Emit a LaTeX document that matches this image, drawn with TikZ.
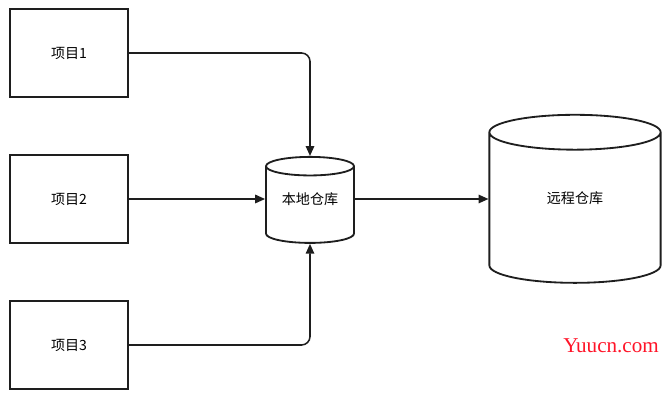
\documentclass[tikz,border=0pt]{standalone}
\usepackage{fontspec}
\setmainfont{Noto Sans CJK SC}
\newfontfamily\markfont{Liberation Serif}
\usetikzlibrary{positioning,arrows.meta,shapes.geometric}
\definecolor{inkgray}{RGB}{30,30,30}
\definecolor{markred}{RGB}{255,20,40}
\tikzset{
  proj/.style={draw=inkgray,line width=1.3pt,minimum width=2.95cm,minimum height=2.2cm,inner sep=0pt,font=\fontsize{10}{12}\selectfont},
  repo/.style={cylinder,shape border rotate=90,draw=inkgray,line width=1.3pt,inner sep=0pt,font=\fontsize{10}{12}\selectfont},
  flow/.style={-{Triangle[length=7pt,width=6pt]},line width=1.1pt,inkgray,rounded corners=6pt},
  every picture/.style={x=0.025cm,y=-0.025cm}
}
\begin{document}
\begin{tikzpicture}
        \useasboundingbox (0,0) rectangle (672,400);
        \node[proj] (p1) at (69,53) {项目1};
        \node[proj] (p2) at (69,199) {项目2};
        \node[proj] (p3) at (69,345) {项目3};
        \node[repo,minimum width=2.2cm,minimum height=2.15cm,shape aspect=0.33,text depth=9pt] (local) at (310,205) {本地仓库};
        \node[repo,minimum width=4.28cm,minimum height=4.2cm,shape aspect=0.62,text depth=15pt] (remote) at (575,208) {远程仓库};
        \draw[flow] (p1.east) -| (local.top);
        \draw[flow] (p2.east) -- (local.west |- p2.east);
        \draw[flow] (p3.east) -| (local.bottom);
        \draw[flow] (local.east |- p2.east) -- (remote.west |- p2.east);
        \node[text=markred,font=\markfont\fontsize{15}{17}\selectfont] (mark) at (611,346) {Yuucn.com};
      \end{tikzpicture}
\end{document}
